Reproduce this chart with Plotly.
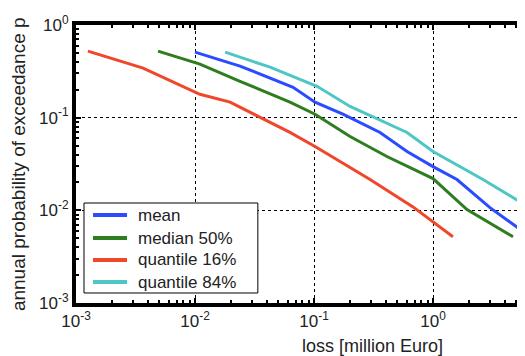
import plotly.graph_objects as go

# ---- data ----
mean_x = [0.0100, 0.0239, 0.0667, 0.102, 0.175, 0.359, 0.605, 1.0, 1.59, 3.01, 5.93, 8.0]
mean_y = [0.509, 0.360, 0.213, 0.147, 0.109, 0.0693, 0.0432, 0.0296, 0.0215, 0.0107, 0.00571, 0.0040]

median_x = [0.00489, 0.0110, 0.0239, 0.0628, 0.102, 0.201, 0.410, 1.0, 1.93, 4.70]
median_y = [0.522, 0.378, 0.247, 0.147, 0.109, 0.0627, 0.0381, 0.0220, 0.0102, 0.00518]

q16_x = [0.00126, 0.00366, 0.0110, 0.0197, 0.0628, 0.102, 0.296, 0.679, 1.47]
q16_y = [0.522, 0.342, 0.179, 0.147, 0.0693, 0.0489, 0.0215, 0.0109, 0.00518]

q84_x = [0.0179, 0.0427, 0.106, 0.201, 0.605, 1.0, 2.63, 5.93, 8.0]
q84_y = [0.509, 0.351, 0.218, 0.132, 0.0693, 0.0432, 0.0215, 0.0115, 0.0085]

series_names = ["mean", "median 50%", "quantile 16%", "quantile 84%"]
series_colors = ["#2a4bff", "#2e7d1e", "#f0462a", "#4fc6c6"]

x_tickvals = [1e-3, 1e-2, 1e-1, 1e0]
x_ticktext = ["10<sup>-3</sup>", "10<sup>-2</sup>", "10<sup>-1</sup>", "10<sup>0</sup>"]
y_tickvals = [1e-3, 1e-2, 1e-1, 1e0]
y_ticktext = ["10<sup>-3</sup>", "10<sup>-2</sup>", "10<sup>-1</sup>", "10<sup>0</sup>"]

x_minor = [m * 10 ** e for e in range(-3, 1) for m in range(2, 10)]
y_minor = [m * 10 ** e for e in range(-3, 0) for m in range(2, 10)]

FONT = "Liberation Sans, Arial, Helvetica, sans-serif"
TXT = "#222"

fig = go.Figure()
for xs, ys, name, col in zip([mean_x, median_x, q16_x, q84_x],
                             [mean_y, median_y, q16_y, q84_y],
                             series_names, series_colors):
    fig.add_trace(go.Scatter(x=xs, y=ys, mode="lines", name=name,
                             line=dict(color=col, width=3)))

axis_common = dict(
    type="log", automargin=False,
    showline=True, linecolor="black", linewidth=4,
    ticks="inside", ticklen=5, tickwidth=2, tickcolor="black",
    showgrid=True, gridcolor="black", gridwidth=1.2, griddash="dot",
    zeroline=False,
    tickfont=dict(family=FONT, size=17, color=TXT),
)

fig.update_xaxes(**axis_common, range=[-3, 0.773], tickmode="array",
                 tickvals=x_tickvals, ticktext=x_ticktext, mirror="ticks",
                 minor=dict(tickmode="array", tickvals=x_minor, ticks="inside",
                            ticklen=3, tickwidth=2, tickcolor="black", showgrid=False))
fig.update_yaxes(**axis_common, range=[-3, 0], tickmode="array",
                 tickvals=y_tickvals, ticktext=y_ticktext, mirror=False,
                 minor=dict(tickmode="array", tickvals=y_minor, ticks="inside",
                            ticklen=3, tickwidth=2, tickcolor="black", showgrid=False))

# axis titles
fig.add_annotation(text="loss [million Euro]", xref="paper", yref="paper",
                   x=0.661, y=-0.155, xanchor="center", yanchor="middle",
                   showarrow=False, font=dict(family=FONT, size=18, color=TXT))
fig.add_annotation(text="annual probability of exceedance p", xref="paper", yref="paper",
                   x=-0.129, y=0.5, xanchor="center", yanchor="middle", textangle=-90,
                   showarrow=False, font=dict(family=FONT, size=19, color=TXT))

# legend (drawn manually to match the compact boxed legend)
fig.add_shape(type="rect", xref="paper", yref="paper",
              x0=0.0178, x1=0.405, y0=0.036, y1=0.3597,
              line=dict(color="black", width=1), fillcolor="white", layer="above")
row_y = [0.3165, 0.2338, 0.1547, 0.0755]
for ry, name, col in zip(row_y, series_names, series_colors):
    fig.add_shape(type="line", xref="paper", yref="paper",
                  x0=0.0379, x1=0.1136, y0=ry, y1=ry,
                  line=dict(color=col, width=4), layer="above")
    fig.add_annotation(text=name, xref="paper", yref="paper", x=0.1336, y=ry,
                       xanchor="left", yanchor="middle", showarrow=False,
                       font=dict(family=FONT, size=17, color=TXT))

# page body has an 8px margin, so the figure is 8px smaller and margins shifted
fig.update_layout(
    width=517, height=348,
    margin=dict(l=68, r=0, t=17, b=53),
    paper_bgcolor="white", plot_bgcolor="white",
    showlegend=False,
)

fig.write_html("out.html")
